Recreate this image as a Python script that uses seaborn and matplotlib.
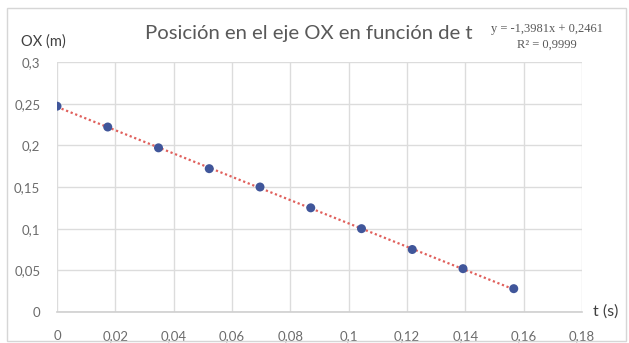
import numpy as np
import matplotlib
matplotlib.use("Agg")
import matplotlib.pyplot as plt
from matplotlib.patches import Rectangle
import seaborn as sns
import pandas as pd

# Measured positions along the OX axis
t_s = [0.0, 0.0174, 0.0348, 0.0522, 0.0696, 0.0870, 0.1044, 0.1218, 0.1392, 0.1566]
ox_m = [0.247, 0.222, 0.197, 0.172, 0.150, 0.125, 0.100, 0.075, 0.052, 0.028]

# Linear trendline coefficients
slope = -1.3981
intercept = 0.2461
r2 = 0.9999

x_ticks = [0, 0.02, 0.04, 0.06, 0.08, 0.1, 0.12, 0.14, 0.16, 0.18]
y_ticks = [0, 0.05, 0.1, 0.15, 0.2, 0.25, 0.3]


def comma(v, nd=2):
    s = f"{v:.{nd}f}".rstrip("0").rstrip(".")
    return s.replace(".", ",")


sns.set_theme(style="whitegrid")
plt.rcParams["font.family"] = ["Lato", "DejaVu Sans"]

W, H = 629, 343
fig = plt.figure(figsize=(W / 100, H / 100), dpi=100)
ax = fig.add_axes([57 / W, 1 - 312 / H, (582 - 57) / W, (312 - 62) / H])

df = pd.DataFrame({"t": t_s, "ox": ox_m})

# Trendline drawn from the fitted equation
tl = np.array([t_s[0], t_s[-1]])
ax.plot(tl, slope * tl + intercept, color="#e0605c", lw=1.6,
        linestyle=(0, (1, 1.2)), zorder=2)

sns.scatterplot(data=df, x="t", y="ox", ax=ax, color="#40569a", s=42,
                edgecolor="none", zorder=3)

ax.set_xlim(0, 0.18)
ax.set_ylim(0, 0.3)
ax.set_xticks(x_ticks)
ax.set_yticks(y_ticks)
ax.set_xticklabels([comma(v) for v in x_ticks])
ax.set_yticklabels([comma(v) for v in y_ticks])
ax.tick_params(axis="both", labelsize=9.5, colors="#6b6b6b", length=0)
ax.tick_params(axis="x", pad=13)
ax.tick_params(axis="y", pad=12)
ax.set_xlabel("")
ax.set_ylabel("")

ax.grid(True, color="#dcdcdc", lw=1)
for side in ["top", "right", "left"]:
    ax.spines[side].set_visible(False)
ax.spines["bottom"].set_visible(True)
ax.spines["bottom"].set_color("#cfcfcf")
ax.spines["bottom"].set_linewidth(1.2)

# Chart frame
fig.patches.append(Rectangle((7 / W, 1 - 341 / H), (626 - 7) / W, (341 - 8) / H,
                             transform=fig.transFigure, fill=False,
                             edgecolor="#d6d6d6", lw=1))

fig.text(309 / W, 1 - 33 / H, "Posición en el eje OX en función de t",
         ha="center", va="center", fontsize=14.6, color="#595959")
fig.text(547 / W, 1 - 29 / H, f"y = {comma(slope, 4)}x + {comma(intercept, 4)}",
         ha="center", va="center", fontsize=9, color="#595959",
         family="Liberation Serif")
fig.text(547 / W, 1 - 45 / H, f"R² = {comma(r2, 4)}",
         ha="center", va="center", fontsize=9, color="#595959",
         family="Liberation Serif")
fig.text(21 / W, 1 - 42 / H, "OX (m)", ha="left", va="center",
         fontsize=10.5, color="#404040")
fig.text(593 / W, 1 - 312 / H, "t (s)", ha="left", va="center",
         fontsize=11.5, color="#404040")

fig.savefig("out.png", dpi=100)
